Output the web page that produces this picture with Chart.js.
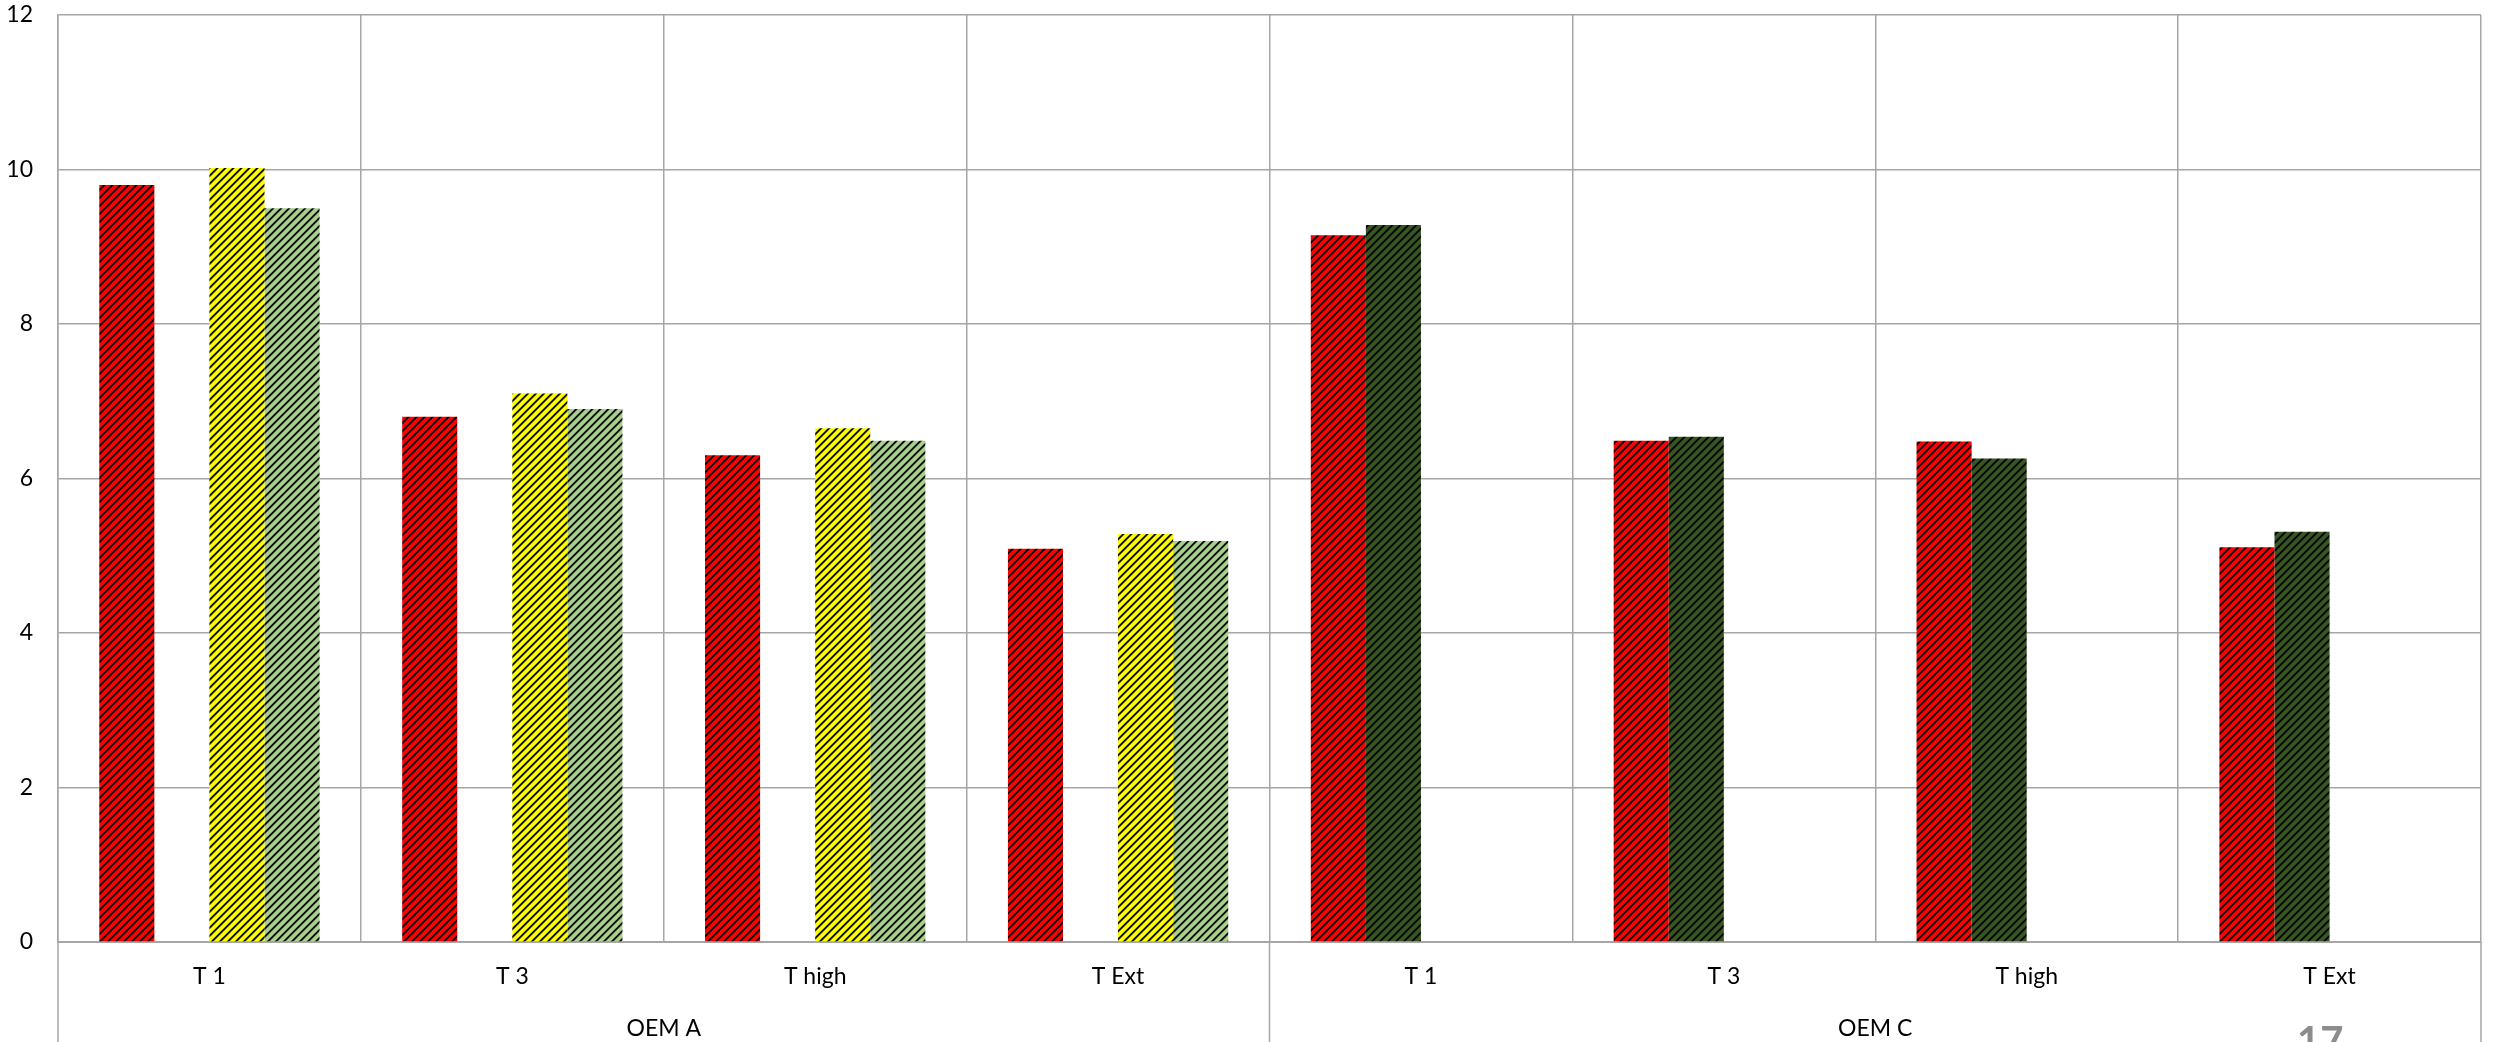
<!DOCTYPE html>
<html lang="en">
<head>
    <meta charset="UTF-8">
    <title>OEM A / OEM C</title>
    <script src="https://cdn.jsdelivr.net/npm/chart.js"></script>
    <style>
        body {
            margin: 0;
            padding: 0;
            background: #ffffff;
            font-family: Lato, "Liberation Sans", sans-serif;
            overflow: hidden;
        }

        .wrap {
            position: relative;
            width: 2494px;
            height: 1042px;
        }

        .page-no {
            position: absolute;
            left: 2297px;
            top: 1020px;
            font-size: 40px;
            line-height: 1;
            font-weight: bold;
            color: #8c8c8c;
        }
    </style>
</head>
<body>
    <div class="wrap">
        <canvas id="chart" width="2494" height="1042"></canvas>
        <div class="page-no">17</div>
    </div>

    <script>
        const categories = ["T 1", "T 3", "T high", "T Ext", "T 1", "T 3", "T high", "T Ext"];
        const groups = ["OEM A", "OEM C"];

        const redValues = [9.8, 6.8, 6.3, 5.09, 9.15, 6.49, 6.48, 5.11];
        const darkGreenValues = [null, null, null, null, 9.28, 6.54, 6.26, 5.31];
        const yellowValues = [10.02, 7.1, 6.65, 5.28, null, null, null, null];
        const lightGreenValues = [9.5, 6.9, 6.49, 5.19, null, null, null, null];

        const yMin = 0;
        const yMax = 12;
        const yStep = 2;

        const gridColor = "#a6a6a6";
        const textColor = "#000000";

        const ctx = document.getElementById("chart").getContext("2d");

        // black upward-diagonal stripes over a solid fill, 8px tile
        function hatch(color) {
            const tile = document.createElement("canvas");
            tile.width = 8;
            tile.height = 8;
            const g = tile.getContext("2d");
            g.fillStyle = color;
            g.fillRect(0, 0, 8, 8);
            const shade = [1, 0.85, 0.35, 0, 0, 0, 0, 0.35];
            for (let y = 0; y < 8; y++) {
                for (let x = 0; x < 8; x++) {
                    const a = shade[(x + y) % 8];
                    if (a > 0) {
                        g.fillStyle = "rgba(0,0,0," + a + ")";
                        g.fillRect(x, y, 1, 1);
                    }
                }
            }
            return ctx.createPattern(tile, "repeat");
        }

        // lines under the axis that close off each OEM group
        const groupLines = {
            id: "groupLines",
            afterDraw(chart) {
                const x = chart.scales.x;
                const area = chart.chartArea;
                const mid = (x.getPixelForValue(3) + x.getPixelForValue(4)) / 2;
                const c = chart.ctx;
                c.save();
                c.strokeStyle = gridColor;
                c.lineWidth = 1.5;
                [x.left, mid, x.right].forEach((px) => {
                    c.beginPath();
                    c.moveTo(px, area.bottom);
                    c.lineTo(px, chart.height);
                    c.stroke();
                });
                c.restore();
            },
        };

        const font = { family: "Lato, 'Liberation Sans', sans-serif", size: 23 };

        new Chart(ctx, {
            type: "bar",
            data: {
                labels: categories,
                datasets: [
                    { data: redValues, backgroundColor: hatch("#ff0000") },
                    { data: darkGreenValues, backgroundColor: hatch("#375623") },
                    { data: yellowValues, backgroundColor: hatch("#ffff00") },
                    { data: lightGreenValues, backgroundColor: hatch("#a9d18e") },
                ],
            },
            options: {
                responsive: false,
                devicePixelRatio: 1,
                animation: false,
                layout: {
                    padding: { top: 15, right: 13, bottom: 0, left: 0 },
                },
                datasets: {
                    bar: {
                        categoryPercentage: 4 / 5.5,
                        barPercentage: 1,
                        borderWidth: 0,
                    },
                },
                plugins: {
                    legend: { display: false },
                    tooltip: { enabled: false },
                },
                scales: {
                    x: {
                        position: "bottom",
                        offset: true,
                        grid: {
                            offset: true,
                            color: gridColor,
                            lineWidth: 1.5,
                            drawTicks: false,
                        },
                        border: { color: gridColor, width: 2 },
                        ticks: {
                            color: textColor,
                            font: font,
                            padding: 21,
                            maxRotation: 0,
                            autoSkip: false,
                        },
                        afterFit(scale) {
                            scale.height = 63;
                        },
                    },
                    x2: {
                        type: "category",
                        position: "bottom",
                        display: true,
                        labels: groups,
                        offset: true,
                        grid: { display: false, drawTicks: false },
                        border: { display: false },
                        ticks: {
                            color: textColor,
                            font: font,
                            padding: 10,
                            maxRotation: 0,
                        },
                        afterFit(scale) {
                            scale.height = 37;
                        },
                    },
                    y: {
                        min: yMin,
                        max: yMax,
                        grid: {
                            color: gridColor,
                            lineWidth: 1.5,
                            drawTicks: false,
                        },
                        border: { color: gridColor, width: 1.5 },
                        ticks: {
                            stepSize: yStep,
                            color: textColor,
                            font: font,
                            padding: 25,
                        },
                        afterFit(scale) {
                            scale.width = 58;
                            scale.paddingTop = 0;
                            scale.paddingBottom = 0;
                        },
                    },
                },
            },
            plugins: [groupLines],
        });
    </script>
</body>
</html>
